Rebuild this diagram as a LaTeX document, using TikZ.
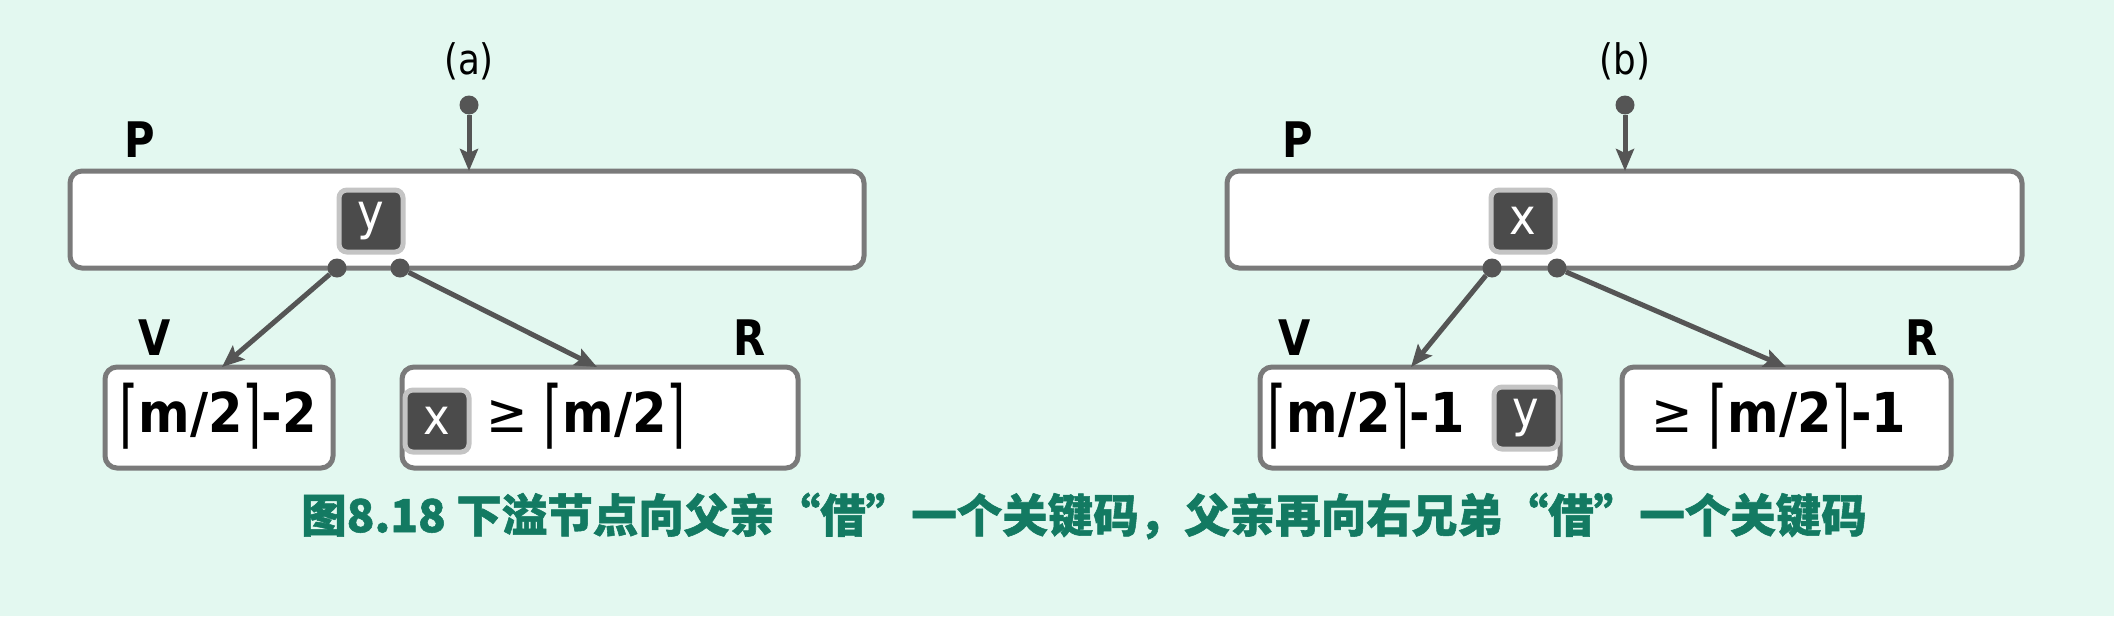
\documentclass[tikz,border=0pt]{standalone}
\usepackage{fontspec}
\usepackage{graphicx}
\setmainfont{DejaVu Sans}
\newfontfamily\condf{DejaVu Sans}[FakeStretch=0.9]
\newfontfamily\labf{DejaVu Sans}[FakeStretch=0.85]
\newfontfamily\cjk{Noto Sans CJK SC}[BoldFeatures={FakeBold=1.2}]
\newcommand\mylc{{\mdseries\raisebox{-0.13em}{\scalebox{1}[1.35]{⌈}}}}
\newcommand\myrc{{\mdseries\raisebox{-0.13em}{\scalebox{1}[1.35]{⌉}}}}
\usetikzlibrary{arrows.meta}
\definecolor{bgc}{HTML}{E3F8F0}
\definecolor{bordc}{HTML}{7A7A7A}
\definecolor{arrc}{HTML}{555555}
\definecolor{keyc}{HTML}{4B4B4B}
\definecolor{keyb}{HTML}{C4C4C4}
\definecolor{capc}{HTML}{137A62}
\tikzset{
  nodebox/.style={draw=bordc, line width=5pt, fill=white, rounded corners=12pt, inner sep=0pt},
  keybox/.style={draw=keyb, line width=5pt, fill=keyc, rounded corners=8pt, minimum width=64pt, minimum height=62pt, inner sep=0pt, text=white, font=\condf\fontsize{50}{50}\selectfont},
  lbl/.style={font=\labf\bfseries\fontsize{49}{49}\selectfont, inner sep=0pt},
  tag/.style={font=\labf\fontsize{42}{42}\selectfont, inner sep=0pt},
  boxtxt/.style={font=\condf\bfseries\fontsize{55}{55}\selectfont, inner sep=0pt},
  ptr/.style={draw=arrc, line width=5pt, -{Stealth[length=22pt,width=18pt,inset=4pt]}},
  dot/.style={circle, fill=arrc, minimum size=19pt, inner sep=0pt},
}
\begin{document}
\begin{tikzpicture}[x=1pt,y=-1pt]
\fill[bgc] (0,0) rectangle (2114,616);
\useasboundingbox (0,0) rectangle (2114,616);

% ----- (a) -----
\node[tag] (ta) at (469,61) {(a)};
\node[dot] (da) at (469,105) {};
\node[lbl] (pa) at (140,140) {P};
\node[nodebox, minimum width=794pt, minimum height=97pt] (Pa) at (467,219.5) {};
\node[keybox] (ya) at (371,221) {y};
\node[dot] (da1) at (337,268) {};
\node[dot] (da2) at (400,268) {};
\node[lbl] (va) at (155,338) {V};
\node[lbl] (ra) at (750,338) {R};
\node[nodebox, minimum width=228pt, minimum height=101pt] (Va) at (219,417.5) {};
\node[nodebox, minimum width=396pt, minimum height=101pt] (Ra) at (600,417.5) {};
\node[boxtxt] (vta) at (218,416) {\mylc m/2\myrc-2};
\node[keybox] (xa) at (437,421) {x};
\node[boxtxt, anchor=west] (rta) at (486,416) {\mdseries≥ \mylc\bfseries m/2\myrc};
\coordinate (Pa-top) at (469,171);
\coordinate (Va-in) at (222,367);
\coordinate (Ra-in) at (597,367);
\draw[ptr] (da) -- (Pa-top);
\draw[ptr] (da1) -- (Va-in);
\draw[ptr] (da2) -- (Ra-in);

% ----- (b) -----
\node[tag] (tb) at (1625,61) {(b)};
\node[dot] (db) at (1625,105) {};
\node[lbl] (pb) at (1298,140) {P};
\node[nodebox, minimum width=795pt, minimum height=97pt] (Pb) at (1624.5,219.5) {};
\node[keybox] (xb) at (1523,221) {x};
\node[dot] (db1) at (1492,268) {};
\node[dot] (db2) at (1557,268) {};
\node[lbl] (vb) at (1295,338) {V};
\node[lbl] (rb) at (1922,338) {R};
\node[nodebox, minimum width=300pt, minimum height=101pt] (Vb) at (1410,417.5) {};
\node[nodebox, minimum width=329pt, minimum height=101pt] (Rb) at (1786.5,417.5) {};
\node[boxtxt, anchor=west] (vtb) at (1267,416) {\mylc m/2\myrc-1};
\node[keybox] (yb) at (1526,418) {y};
\node[boxtxt, anchor=west] (rtb) at (1651,416) {\mdseries≥ \mylc\bfseries m/2\myrc-1};
\coordinate (Pb-top) at (1625,171);
\coordinate (Vb-in) at (1411,367);
\coordinate (Rb-in) at (1786,367);
\draw[ptr] (db) -- (Pb-top);
\draw[ptr] (db1) -- (Vb-in);
\draw[ptr] (db2) -- (Rb-in);

% ----- caption -----
\node[font=\cjk\bfseries\fontsize{45.5}{45.5}\selectfont, text=capc, inner sep=0pt] (cap) at (1084,516)
  {图8.18 下溢节点向父亲“借”一个关键码，父亲再向右兄弟“借”一个关键码};
\end{tikzpicture}
\end{document}
